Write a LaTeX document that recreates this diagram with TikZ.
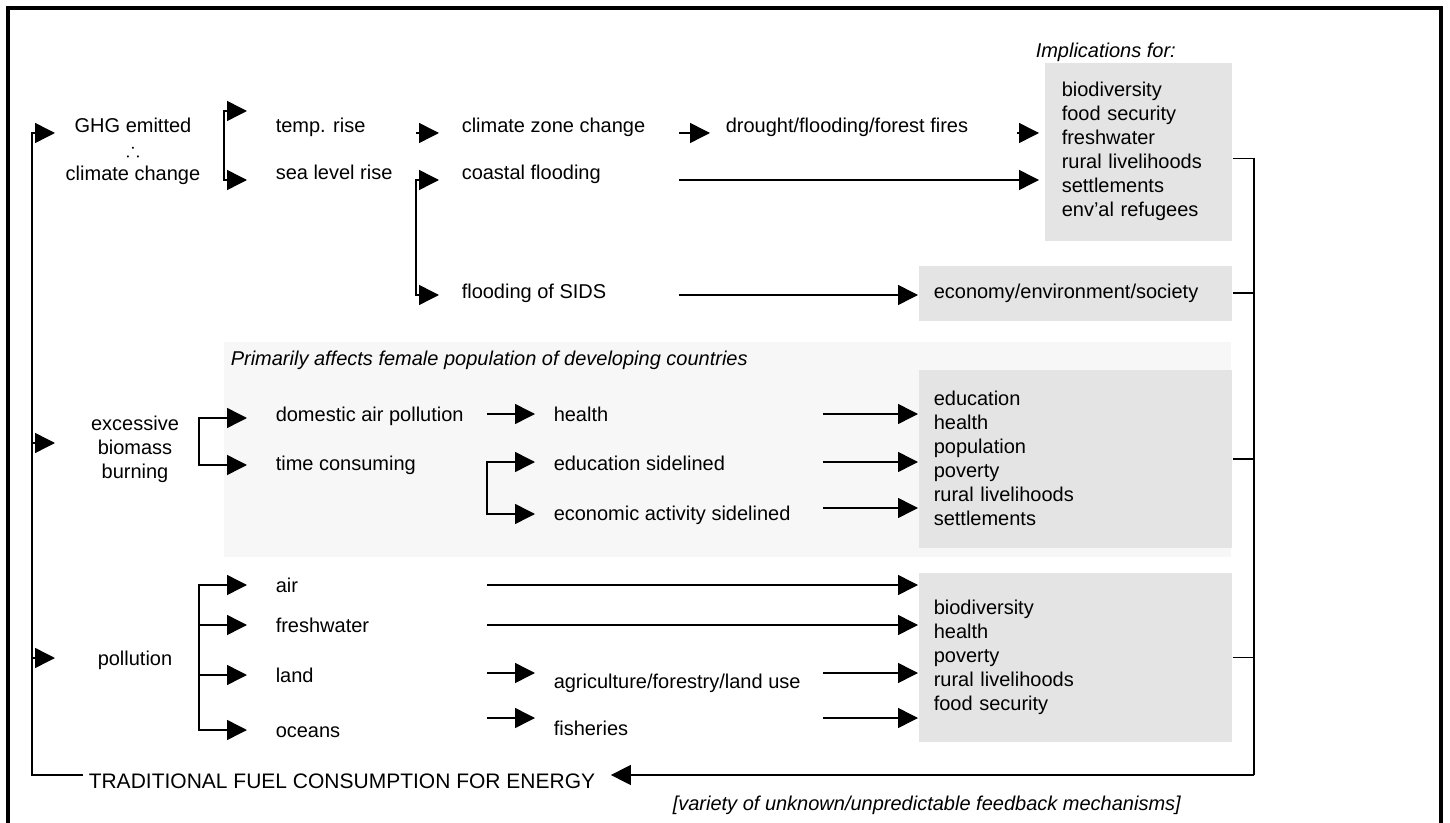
\documentclass[tikz,border=0pt]{standalone}
\usepackage{amssymb}
\usepackage{fontspec}
\setmainfont{Liberation Sans}
\usepackage{xcolor}
\usetikzlibrary{positioning,arrows.meta}
\definecolor{boxgray}{RGB}{228,228,228}
\definecolor{panelgray}{RGB}{247,247,247}

\begin{document}
\begin{tikzpicture}[x=0.5pt,y=-0.5pt,line width=0.75pt,>={Triangle[length=10pt,width=10pt]},
    every node/.style={font=\fontsize{10}{12}\selectfont,inner sep=0pt},
    lbl/.style={anchor=base west},
    note/.style={anchor=base west,font=\fontsize{10}{12}\selectfont\itshape},
    impbox/.style={fill=boxgray,anchor=north west,align=left,inner xsep=7.5pt,text width=141.5pt,minimum width=156.5pt}]
    \useasboundingbox (0,0) rectangle (1450,823);
    \draw[line width=2pt] (8,823) -- (8,8) -- (1441,8) -- (1441,823);
    \fill[panelgray] (224,342) rectangle (1231,557);
    \coordinate (ColL) at (32,0);
    \coordinate (TipL) at (55,0);
    \coordinate (ColC) at (199,0);
    \coordinate (ColB) at (224,0);
    \coordinate (TipB) at (247,0);
    \coordinate (ColD) at (416,0);
    \coordinate (TipD) at (439,0);
    \coordinate (ColG) at (487,0);
    \coordinate (TipG) at (535,0);
    \coordinate (ColE) at (679,0);
    \coordinate (TipE) at (710,0);
    \coordinate (ColH) at (823,0);
    \coordinate (ColF) at (1017,0);
    \coordinate (TipF) at (1039,0);
    \coordinate (FB) at (1254,775);
    \node[align=center] (GHG) at (133,151) {GHG emitted\\$\therefore$\\climate change};
    \node[lbl] (TempRise) at (275,133) {temp. rise};
    \node[lbl] (SeaLevel) at (275,180) {sea level rise};
    \node[lbl] (ClimZone) at (461,133) {climate zone change};
    \node[lbl] (Coastal) at (461,180) {coastal flooding};
    \node[lbl] (SIDS) at (461,299) {flooding of SIDS};
    \node[lbl] (Drought) at (725,133) {drought/flooding/forest fires};
    \node[note] (ImplFor) at (1035,58) {Implications for:};
    \node[impbox,inner xsep=8.5pt,text width=76.5pt,minimum width=93.5pt,minimum height=89pt] (Impl1) at (1044,62)
        {biodiversity\\food security\\freshwater\\rural livelihoods\\settlements\\env'al refugees};
    \node[impbox,minimum height=27.5pt] (Impl2) at (918,265) {economy/environment/society};
    \node[note] (Female) at (230,365) {Primarily affects female population of developing countries};
    \node[align=center] (Biomass) at (135,449) {excessive\\biomass\\burning};
    \node[lbl] (Domestic) at (275,422) {domestic air pollution};
    \node[lbl] (TimeCons) at (275,470) {time consuming};
    \node[lbl] (Health) at (553,422) {health};
    \node[lbl] (Educ) at (553,470) {education sidelined};
    \node[lbl] (Econ) at (553,520) {economic activity sidelined};
    \node[impbox,minimum height=89pt] (Impl3) at (918,369)
        {education\\health\\population\\poverty\\rural livelihoods\\settlements};
    \node[anchor=base] (Pollution) at (135,665) {pollution};
    \node[lbl] (Air) at (275,592) {air};
    \node[lbl] (Fresh) at (275,632) {freshwater};
    \node[lbl] (Land) at (275,682) {land};
    \node[lbl] (Oceans) at (275,737) {oceans};
    \node[lbl] (Agri) at (553,688) {agriculture/forestry/land use};
    \node[lbl] (Fish) at (553,735) {fisheries};
    \node[impbox,minimum height=84.5pt] (Impl4) at (918,572)
        {biodiversity\\health\\poverty\\rural livelihoods\\food security};
    \node[lbl,inner xsep=7.5pt,font=\fontsize{10.5}{12}\selectfont] (Trad) at (73,788) {TRADITIONAL FUEL CONSUMPTION FOR ENERGY};
    \node[note] (Variety) at (672,810) {[variety of unknown/unpredictable feedback mechanisms]};
    \draw[->] ([xshift=5pt]Trad.west |- FB) -| ([yshift=9pt]ColL |- GHG) -- ([yshift=9pt]TipL |- GHG);
    \draw[->] ([yshift=3pt]ColL |- Biomass) -- ([yshift=3pt]TipL |- Biomass);
    \draw[->] ([yshift=3.5pt]ColL |- Pollution.base) -- ([yshift=3.5pt]TipL |- Pollution.base);
    \draw[<->] ([yshift=11pt]TipB |- TempRise.base) -| (ColB |- SeaLevel.base) -- (TipB |- SeaLevel.base);
    \draw[->] (ColD |- TempRise.base) -- (TipD |- TempRise.base);
    \draw[<->] (TipD |- Coastal.base) -| ([yshift=2pt]ColD |- SIDS.base) -- ([yshift=2pt]TipD |- SIDS.base);
    \draw[->] (ColE |- ClimZone.base) -- (TipE |- ClimZone.base);
    \draw[->] (ColF |- Drought.base) -- (TipF |- Drought.base);
    \draw[->] (ColE |- Coastal.base) -- (TipF |- Coastal.base);
    \draw[->] ([yshift=2pt]ColE |- SIDS.base) -- ([yshift=2pt]Impl2.west |- SIDS.base);
    \draw[<->] ([yshift=2pt]TipB |- Domestic.base) -| ([yshift=2.5pt]ColC |- TimeCons.base) -- ([yshift=2.5pt]TipB |- TimeCons.base);
    \draw[->] ([yshift=4pt]ColG |- Health.base) -- ([yshift=4pt]TipG |- Health.base);
    \draw[->] ([yshift=4pt]ColH |- Health.base) -- ([yshift=4pt]Impl3.west |- Health.base);
    \draw[<->] ([yshift=4pt]TipG |- Educ.base) -| ([yshift=3pt]ColG |- Econ.base) -- ([yshift=3pt]TipG |- Econ.base);
    \draw[->] ([yshift=4pt]ColH |- Educ.base) -- ([yshift=4pt]Impl3.west |- Educ.base);
    \draw[->] ([yshift=6pt]ColH |- Econ.base) -- ([yshift=6pt]Impl3.west |- Econ.base);
    \draw[<->] ([yshift=3.5pt]TipB |- Air.base) -| ([yshift=3.5pt]ColC |- Oceans.base) -- ([yshift=3.5pt]TipB |- Oceans.base);
    \draw[->] ([yshift=3.5pt]ColC |- Fresh.base) -- ([yshift=3.5pt]TipB |- Fresh.base);
    \draw[->] ([yshift=3.5pt]ColC |- Land.base) -- ([yshift=3.5pt]TipB |- Land.base);
    \draw[->] ([yshift=3.5pt]ColG |- Air.base) -- ([yshift=3.5pt]Impl4.west |- Air.base);
    \draw[->] ([yshift=3.5pt]ColG |- Fresh.base) -- ([yshift=3.5pt]Impl4.west |- Fresh.base);
    \draw[->] ([yshift=7.5pt]ColG |- Agri.base) -- ([yshift=7.5pt]TipG |- Agri.base);
    \draw[->] ([yshift=7.5pt]ColH |- Agri.base) -- ([yshift=7.5pt]Impl4.west |- Agri.base);
    \draw[->] ([yshift=8.5pt]ColG |- Fish.base) -- ([yshift=8.5pt]TipG |- Fish.base);
    \draw[->] ([yshift=8.5pt]ColH |- Fish.base) -- ([yshift=8.5pt]Impl4.west |- Fish.base);
    \draw ([yshift=-3.5pt]Impl1.east) -| (FB);
    \draw (Impl2.east) -- (Impl2.east -| FB);
    \draw (Impl3.east) -- (Impl3.east -| FB);
    \draw (Impl4.east) -- (Impl4.east -| FB);
    \draw[->] (FB) -- (Trad.east |- FB);
\end{tikzpicture}
\end{document}
